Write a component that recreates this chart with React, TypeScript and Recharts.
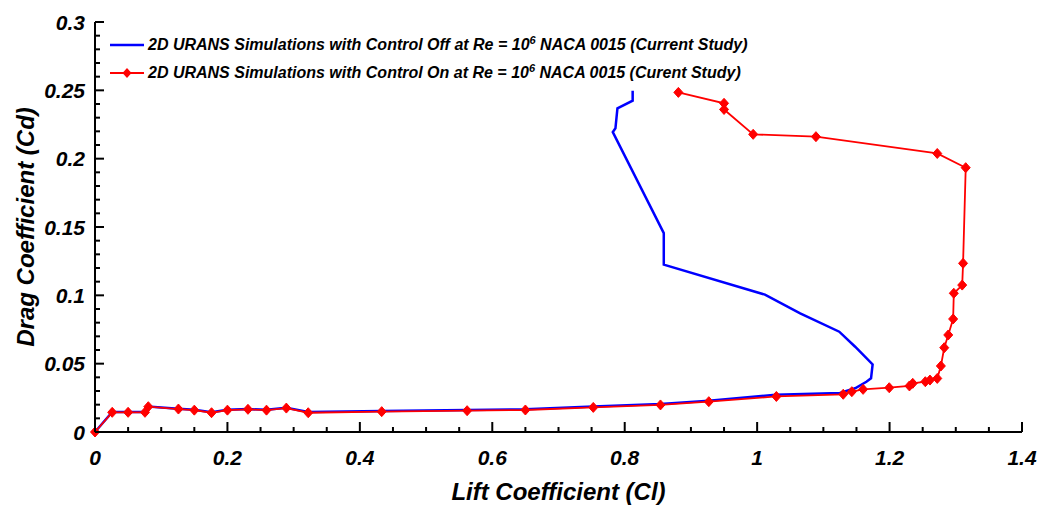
import React from "react";
import { LineChart, Line, XAxis, YAxis } from "recharts";

// Lift coefficient (Cl) / drag coefficient (Cd) pairs, in traversal order
const controlOff: [number, number][] = [
  [0, 0], [0.026, 0.0146], [0.05, 0.0146], [0.075, 0.0146], [0.0805, 0.0187],
  [0.126, 0.017], [0.15, 0.0162], [0.176, 0.0144], [0.2, 0.0162], [0.231, 0.0168],
  [0.259, 0.0162], [0.289, 0.0177], [0.322, 0.0146], [0.433, 0.0154], [0.562, 0.0161],
  [0.65, 0.0166], [0.7525, 0.0186], [0.854, 0.0204], [0.927, 0.0229], [1.028, 0.0273],
  [1.125, 0.0286], [1.148, 0.032], [1.165, 0.0368], [1.172, 0.0393], [1.1744, 0.0495],
  [1.148, 0.0624], [1.124, 0.0734], [1.065, 0.0868], [1.0118, 0.1005], [0.859, 0.1225],
  [0.859, 0.1455], [0.782, 0.2195], [0.786, 0.2222], [0.789, 0.2368], [0.812, 0.2424],
  [0.812, 0.2497],
];

const controlOn: [number, number][] = [
  [0, 0], [0.026, 0.0144], [0.05, 0.0144], [0.0755, 0.0144], [0.0805, 0.0185],
  [0.126, 0.0168], [0.15, 0.016], [0.176, 0.0141], [0.2, 0.016], [0.231, 0.0166],
  [0.259, 0.016], [0.289, 0.0175], [0.322, 0.0141], [0.433, 0.0149], [0.562, 0.0156],
  [0.65, 0.0161], [0.7525, 0.018], [0.854, 0.0198], [0.927, 0.0222], [1.029, 0.026],
  [1.13, 0.0276], [1.143, 0.0295], [1.16, 0.0312], [1.1995, 0.0324], [1.23, 0.0337],
  [1.235, 0.0356], [1.254, 0.0368], [1.261, 0.038], [1.272, 0.0392], [1.2775, 0.0483],
  [1.2826, 0.0617], [1.2886, 0.071], [1.296, 0.0827], [1.297, 0.1015], [1.3097, 0.1075],
  [1.311, 0.1234], [1.315, 0.1934], [1.272, 0.2038], [1.0888, 0.2161], [0.994, 0.2178],
  [0.95, 0.236], [0.95, 0.2405], [0.881, 0.2485],
];

const xTicks = [
  0, 0.05, 0.1, 0.15, 0.2, 0.25, 0.3, 0.35, 0.4, 0.45, 0.5, 0.55, 0.6, 0.65, 0.7,
  0.75, 0.8, 0.85, 0.9, 0.95, 1, 1.05, 1.1, 1.15, 1.2, 1.25, 1.3, 1.35, 1.4,
];
const xLabels = [0, 0.2, 0.4, 0.6, 0.8, 1, 1.2, 1.4];

const yTicks = [
  0, 0.01, 0.02, 0.03, 0.04, 0.05, 0.06, 0.07, 0.08, 0.09, 0.1, 0.11, 0.12, 0.13,
  0.14, 0.15, 0.16, 0.17, 0.18, 0.19, 0.2, 0.21, 0.22, 0.23, 0.24, 0.25, 0.26, 0.27,
  0.28, 0.29, 0.3,
];
const yLabels = [0, 0.05, 0.1, 0.15, 0.2, 0.25, 0.3];

const seriesNames = [
  "2D URANS Simulations with Control Off at Re = 10",
  "2D URANS Simulations with Control On at Re = 10",
];
const seriesSuffix = [" NACA 0015 (Current Study)", " NACA 0015 (Curent Study)"];

const toRows = (pts: [number, number][]) => pts.map(([cl, cd]) => ({ cl, cd }));

const FONT = "'Liberation Sans', Arial, sans-serif";
const labelStyle = {
  fontFamily: FONT,
  fontWeight: 700,
  fontStyle: "italic" as const,
  fontSize: 21,
  fill: "#000",
};

const isLabel = (list: number[], v: number) => list.some((l) => Math.abs(l - v) < 1e-9);

const XTick = (props: any) => {
  const { x, y, payload } = props;
  const v = payload.value;
  const major = isLabel(xLabels, v);
  return (
    <g>
      <line x1={x} x2={x} y1={y} y2={y - (major ? 10 : 5)} stroke="#000" strokeWidth={2} />
      {major && (
        <text x={x} y={y + 33} textAnchor="middle" style={labelStyle}>
          {String(v)}
        </text>
      )}
    </g>
  );
};

const YTick = (props: any) => {
  const { x, y, payload } = props;
  const v = payload.value;
  const major = isLabel(yLabels, v);
  return (
    <g>
      <line x1={x} x2={x + (major ? 9 : 5)} y1={y} y2={y} stroke="#000" strokeWidth={2} />
      {major && (
        <text x={x - 10} y={y + 7.5} textAnchor="end" style={labelStyle}>
          {String(v)}
        </text>
      )}
    </g>
  );
};

const Diamond = (props: any) => {
  const { cx, cy, index } = props;
  if (cx == null || cy == null) return <g key={index} />;
  return (
    <path
      key={index}
      d={`M${cx},${cy - 5} L${cx + 4.5},${cy} L${cx},${cy + 5} L${cx - 4.5},${cy} Z`}
      fill="#ff0000"
      stroke="#ff0000"
      strokeWidth={1}
    />
  );
};

const titleStyle = {
  fontFamily: FONT,
  fontWeight: 700,
  fontStyle: "italic" as const,
  fontSize: 24,
  fill: "#000",
};

const XTitle = (props: any) => {
  const vb = props.viewBox;
  return (
    <text x={vb.x + vb.width / 2} y={vb.y + 68} textAnchor="middle" style={titleStyle}>
      Lift Coefficient (Cl)
    </text>
  );
};

const YTitle = (props: any) => {
  const vb = props.viewBox;
  const cx = vb.x + 34;
  const cy = vb.y + vb.height / 2;
  return (
    <text
      x={cx}
      y={cy}
      textAnchor="middle"
      transform={`rotate(-90, ${cx}, ${cy})`}
      style={titleStyle}
    >
      Drag Coefficient (Cd)
    </text>
  );
};

const legendText: React.CSSProperties = {
  fontFamily: FONT,
  fontWeight: 700,
  fontStyle: "italic",
  fontSize: 16,
  color: "#000",
  whiteSpace: "nowrap",
  lineHeight: "18px",
};

const LegendRow = ({ i, top }: { i: number; top: number }) => (
  <div style={{ position: "absolute", left: 110, top: top - 10, display: "flex", alignItems: "center", height: 20 }}>
    <svg width={36} height={20} style={{ display: "block" }}>
      {i === 0 ? (
        <line x1={0} x2={34} y1={10} y2={10} stroke="#0000ff" strokeWidth={2.5} />
      ) : (
        <g>
          <line x1={0} x2={34} y1={10} y2={10} stroke="#ff0000" strokeWidth={2} />
          <path d="M17,5 L21.5,10 L17,15 L12.5,10 Z" fill="#ff0000" />
        </g>
      )}
    </svg>
    <span style={{ ...legendText, marginLeft: 2 }}>
      {seriesNames[i]}
      <sup style={{ fontSize: 11, verticalAlign: "top", position: "relative", top: -5 }}>6</sup>
      {seriesSuffix[i]}
    </span>
  </div>
);

export default function App() {
  return (
    <div style={{ position: "absolute", left: 0, top: 0, width: 1042, height: 506, background: "#fff" }}>
      <LineChart width={1042} height={506} margin={{ top: 22, right: 20, bottom: 0, left: 0 }}>
        <XAxis
          type="number"
          dataKey="cl"
          domain={[0, 1.4]}
          ticks={xTicks}
          interval={0}
          height={74}
          tickSize={0}
          tickMargin={0}
          tickLine={false}
          tick={<XTick />}
          axisLine={{ stroke: "#000", strokeWidth: 2 }}
          label={{ content: <XTitle /> } as any}
        />
        <YAxis
          type="number"
          dataKey="cd"
          domain={[0, 0.3]}
          ticks={yTicks}
          interval={0}
          width={95}
          tickSize={0}
          tickMargin={0}
          tickLine={false}
          tick={<YTick />}
          axisLine={{ stroke: "#000", strokeWidth: 2 }}
          label={{ content: <YTitle /> } as any}
        />
        <Line
          data={toRows(controlOff)}
          dataKey="cd"
          stroke="#0000ff"
          strokeWidth={2.5}
          dot={false}
          activeDot={false}
          isAnimationActive={false}
        />
        <Line
          data={toRows(controlOn)}
          dataKey="cd"
          stroke="#ff0000"
          strokeWidth={1.8}
          dot={Diamond}
          activeDot={false}
          isAnimationActive={false}
        />
      </LineChart>
      <LegendRow i={0} top={45} />
      <LegendRow i={1} top={73} />
    </div>
  );
}
